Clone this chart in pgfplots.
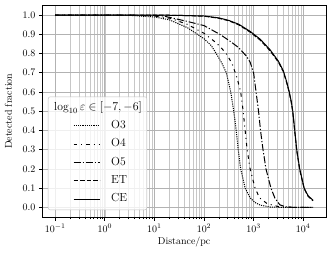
\documentclass[border=0pt]{standalone}
\usepackage{fontspec}
\usepackage{pgfplots}
\pgfplotsset{compat=1.18}
\usepackage{pgfplotstable}
\usetikzlibrary{calc}

\pgfplotstableread{
d val
0.1 1.0
1 1.0
3.162 0.998
10 0.99
19.95 0.975
45.71 0.935
100 0.877
141.3 0.84
186.2 0.79
229.1 0.75
281.8 0.70
346.7 0.60
398.1 0.50
446.7 0.40
489.8 0.30
549.5 0.20
676.1 0.10
851.1 0.05
1071.5 0.025
1349 0.012
2138 0.002
3981 0.0
15849 0.0
}\dataOthree

\pgfplotstableread{
d val
0.1 1.0
3.162 1.0
10 0.995
20.89 0.983
45.71 0.952
100 0.905
158.5 0.865
213.8 0.835
288.4 0.795
371.5 0.745
467.7 0.67
549.5 0.60
616.6 0.50
676.1 0.40
741.3 0.30
851.1 0.20
1071.5 0.10
1318 0.05
1862 0.02
3162 0.004
6310 0.0
15849 0.0
}\dataOfour

\pgfplotstableread{
d val
0.1 1.0
1 1.0
10 0.998
15.14 0.995
45.71 0.967
100 0.945
213.8 0.898
338.8 0.863
501.2 0.83
724.4 0.785
851.1 0.755
1000 0.70
1122 0.60
1259 0.50
1380 0.40
1549 0.30
1778 0.20
2239 0.10
2692 0.048
3388 0.013
4467 0.003
6310 0.0
15849 0.0
}\dataOfive

\pgfplotstableread{
d val
0.1 1.0
1 1.0
10 1.0
31.62 0.998
100 0.994
199.5 0.983
316.2 0.970
501.2 0.949
851.1 0.911
1349 0.870
2138 0.815
3162 0.755
3981 0.705
4677 0.645
5248 0.595
5754 0.545
6166 0.495
6761 0.395
7413 0.295
8511 0.195
10471 0.097
12589 0.057
15849 0.034
}\dataET

\pgfplotstableread{
d val
0.1 1.0
1 1.0
10 1.0
31.62 0.998
100 0.995
199.5 0.985
316.2 0.972
501.2 0.952
851.1 0.915
1349 0.875
2138 0.82
3162 0.76
3981 0.71
4677 0.65
5248 0.60
5754 0.55
6166 0.50
6761 0.40
7413 0.30
8511 0.20
10471 0.10
12589 0.06
15849 0.037
}\dataCE

\begin{document}
\begin{tikzpicture}
\begin{axis}[
  scale only axis,
  width=283.7bp, height=211.6bp,
  xmode=log,
  xmin=0.05495, xmax=28840,
  ymin=-0.05, ymax=1.05,
  xtick={0.1,1,10,100,1000,10000},
  ytick={0,0.1,0.2,0.3,0.4,0.5,0.6,0.7,0.8,0.9,1.0},
  yticklabel style={/pgf/number format/.cd, fixed, fixed zerofill, precision=1},
  tick align=outside,
  xtick pos=left, ytick pos=left,
  major tick length=3.5bp,
  minor tick length=2bp,
  tick style={black, line width=0.6bp},
  axis line style={black, line width=0.8bp},
  xmajorgrids, xminorgrids, ymajorgrids,
  major grid style={black!30, line width=0.6bp},
  minor grid style={black!22, line width=0.5bp},
  tick label style={font=\fontsize{10.4}{12}\selectfont},
  label style={font=\fontsize{11.7}{14}\selectfont},
  every axis y label/.style={at={(axis description cs:-0.119,0.5)}, rotate=90, anchor=center},
  every axis x label/.style={at={(axis description cs:0.5,-0.129)}, anchor=base},
  xlabel={$\mathrm{Distance}/\mathrm{pc}$},
  ylabel={Detected fraction},
  legend cell align=left,
  legend style={
    at={(axis description cs:0.0201,0.033)}, anchor=south west,
    draw=black!25, fill=white, fill opacity=0.8, text opacity=1, draw opacity=1,
    rounded corners=2bp,
    font=\fontsize{11.7}{14}\selectfont,
    inner xsep=5bp, inner ysep=5.5bp,
    row sep=7.8bp, column sep=11bp,
    nodes={inner sep=0pt, text height=8bp, text depth=2.5bp},
  },
  legend image code/.code={\path (0bp,0bp); \draw[#1] (20bp,0bp) -- (46bp,0bp);},
]
\addlegendimage{empty legend}
\addlegendentry{\hspace*{-57bp}$\log_{10}\varepsilon\in[-7,-6]$}
\addplot[black, line width=1bp, dash pattern=on 1.1bp off 1.1bp] table[x=d,y=val]{\dataOthree};
\addlegendentry{O3}
\addplot[black, line width=1bp, dash pattern=on 3.5bp off 4bp on 1bp off 4bp] table[x=d,y=val]{\dataOfour};
\addlegendentry{O4}
\addplot[black, line width=1bp, dash pattern=on 7bp off 2bp on 1.2bp off 2bp] table[x=d,y=val]{\dataOfive};
\addlegendentry{O5}
\addplot[black, line width=1bp, dash pattern=on 4.5bp off 2bp] table[x=d,y=val]{\dataET};
\addlegendentry{ET}
\addplot[black, line width=1bp] table[x=d,y=val]{\dataCE};
\addlegendentry{CE}
\end{axis}
\pgfresetboundingbox
\path[use as bounding box] ([shift={(-42.3bp,-39bp)}]current axis.south west) rectangle ([shift={(6bp,5.4bp)}]current axis.north east);
\end{tikzpicture}
\end{document}
